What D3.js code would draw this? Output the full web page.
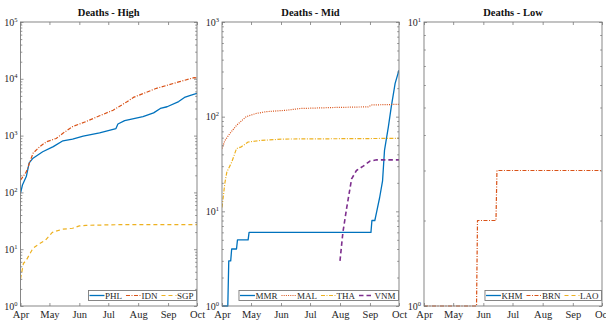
<!DOCTYPE html>
<html><head><meta charset="utf-8">
<script src="https://cdn.jsdelivr.net/npm/d3@7"></script>
<style>body{margin:0;background:#fff}svg{display:block}</style>
</head><body>
<svg id="chart" width="606" height="322"></svg>
<script>
// Month ticks along the x axis (2020)
const monthTicks = ["04-01","05-01","06-01","07-01","08-01","09-01","10-01"];

// Cumulative deaths, [date, deaths]
const phl = [["04-01",96],["04-03",135],["04-07",190],["04-10",330],["04-14",400],["04-24",520],
  ["05-05",640],["05-15",810],["05-25",870],["06-05",980],["06-22",1120],["07-09",1330],["07-11",1600],
  ["07-18",1830],["08-06",2150],["08-17",2510],["08-24",3010],["08-31",3220],["09-12",3970],
  ["09-18",4700],["09-25",5150],["10-01",5550]];
const idn = [["04-01",165],["04-07",230],["04-14",490],["04-21",640],["04-28",780],["05-08",890],
  ["05-15",1100],["05-25",1440],["06-08",1770],["06-22",2230],["07-06",2800],["07-20",3900],
  ["07-27",4700],["08-20",6800],["09-13",8900],["09-28",10500],["10-01",10300]];
const sgp = [["04-01",3],["04-04",5.6],["04-07",6.4],["04-14",10.4],["04-20",12.3],["04-27",14.5],
  ["05-04",19.8],["05-14",22.4],["05-25",23.4],["06-01",25.7],["06-08",26.3],["07-10",27],["10-01",27]];

const mmr = [["04-01",1],["04-07",1],["04-08",3],["04-10",3],["04-11",4],["04-16",4],["04-17",5],
  ["04-28",5],["04-29",6],["09-02",6],["09-03",8],["09-06",8],["09-08",10],["09-11",14],["09-14",21],
  ["09-16",44],["09-20",78],["09-23",127],["09-27",225],["10-01",310]];
const mal = [["04-01",46],["04-04",56],["04-09",66],["04-16",81],["04-26",100],["05-06",108],
  ["05-17",113],["06-07",117],["06-21",122],["07-26",125],["08-30",127],["09-03",133],["10-01",135]];
const tha = [["04-01",11],["04-04",20],["04-06",26],["04-11",33],["04-16",46],["04-21",48],
  ["04-28",54],["05-10",56],["06-03",58],["10-01",59]];
const vnm = [["08-01",3],["08-04",6],["08-08",11],["08-13",22],["08-18",27],["08-25",30],
  ["09-01",34],["09-08",35],["10-01",35]];

const khm = [["04-01",0],["10-01",0]];
const brn = [["04-01",1],["05-25",1],["05-26",2],["06-14",2],["06-15",3],["10-01",3]];
const lao = [["04-01",0],["10-01",0]];

const C = {blue:"#0072BD", orange:"#D95319", yellow:"#EDB120", purple:"#7E2F8E"};
const DASHDOT = "4,1.5,1,1.5", DASHED = "4,3", DOTTED = "1,1.2";

const panels = [
  {title:"Deaths - High", x0:20.5, x1:197, decades:5, series:[
    {name:"PHL", data:phl, color:C.blue, dash:null, w:1.3},
    {name:"IDN", data:idn, color:C.orange, dash:DASHDOT, w:1.2},
    {name:"SGP", data:sgp, color:C.yellow, dash:DASHED, w:1.2}]},
  {title:"Deaths - Mid", x0:222, x1:399, decades:3, series:[
    {name:"MMR", data:mmr, color:C.blue, dash:null, w:1.3},
    {name:"MAL", data:mal, color:C.orange, dash:DOTTED, w:1.2},
    {name:"THA", data:tha, color:C.yellow, dash:DASHDOT, w:1.2},
    {name:"VNM", data:vnm, color:C.purple, dash:"4.5,3", w:1.6}]},
  {title:"Deaths - Low", x0:424, x1:602, decades:1, series:[
    {name:"KHM", data:khm, color:C.blue, dash:null, w:1.3},
    {name:"BRN", data:brn, color:C.orange, dash:DASHDOT, w:1.2},
    {name:"LAO", data:lao, color:C.yellow, dash:DASHED, w:1.2}]}
];

const parse = d3.timeParse("%Y-%m-%d");
const toDate = s => parse("2020-" + s);
const plotTop = 22, plotBottom = 306;
const svg = d3.select("#chart");
const FONT = "'Liberation Serif', 'Times New Roman', serif";
const AXIS = "#7a7a7a", TEXT = "#262626";

panels.forEach((p, i) => {
  const g = svg.append("g");
  const x = d3.scaleTime().domain([toDate("04-01"), toDate("10-01")]).range([p.x0, p.x1]);
  const y = d3.scaleLog().domain([1, Math.pow(10, p.decades)]).range([plotBottom, plotTop]);
  const tickDates = monthTicks.map(toDate);
  const majors = d3.range(p.decades + 1).map(k => Math.pow(10, k));
  const minors = [];
  for (let k = 0; k < p.decades; k++) for (let m = 2; m <= 9; m++) minors.push(m * Math.pow(10, k));

  const clipId = "clip" + i;
  svg.append("clipPath").attr("id", clipId).append("rect")
    .attr("x", p.x0).attr("y", plotTop - 1).attr("width", p.x1 - p.x0).attr("height", plotBottom - plotTop + 2);

  // series lines
  const line = d3.line().defined(d => d[1] > 0).x(d => x(toDate(d[0]))).y(d => y(d[1]));
  p.series.forEach(s => {
    if (!s.data.some(d => d[1] > 0)) return;
    g.append("path").datum(s.data).attr("d", line).attr("clip-path", `url(#${clipId})`)
      .attr("fill", "none").attr("stroke", s.color).attr("stroke-width", s.w)
      .attr("stroke-dasharray", s.dash).attr("stroke-linejoin", "round");
  });

  // axes (ticks pointing inward)
  const styleAxis = sel => {
    sel.select(".domain").remove();
    sel.selectAll(".tick line").attr("stroke", AXIS).attr("stroke-width", 0.8);
    sel.selectAll("text").attr("font-family", FONT).attr("font-size", 10.5).attr("fill", TEXT);
  };
  g.append("g").attr("transform", `translate(0,${plotBottom})`)
    .call(d3.axisBottom(x).tickValues(tickDates).tickFormat(d3.timeFormat("%b"))
      .tickSizeInner(-3).tickSizeOuter(0).tickPadding(5)).call(styleAxis);
  g.append("g").attr("transform", `translate(0,${plotTop})`)
    .call(d3.axisTop(x).tickValues(tickDates).tickFormat("").tickSizeInner(-3).tickSizeOuter(0)).call(styleAxis);
  [[d3.axisLeft, p.x0], [d3.axisRight, p.x1]].forEach(([ax, pos]) => {
    g.append("g").attr("transform", `translate(${pos},0)`)
      .call(ax(y).tickValues(majors).tickFormat("").tickSizeInner(-3).tickSizeOuter(0)).call(styleAxis);
    g.append("g").attr("transform", `translate(${pos},0)`)
      .call(ax(y).tickValues(minors).tickFormat("").tickSizeInner(-1.8).tickSizeOuter(0)).call(styleAxis);
  });

  // y labels as 10^k
  majors.forEach((v, k) => {
    const t = g.append("text").attr("x", p.x0 - 3).attr("y", y(v) + 3.5)
      .attr("text-anchor", "end").attr("font-family", FONT).attr("font-size", 10).attr("fill", TEXT);
    t.append("tspan").text("10");
    t.append("tspan").attr("dy", -4).attr("font-size", 6.5).text(String(k));
  });

  // frame
  g.append("rect").attr("x", p.x0).attr("y", plotTop).attr("width", p.x1 - p.x0).attr("height", plotBottom - plotTop)
    .attr("fill", "none").attr("stroke", AXIS).attr("stroke-width", 0.9);

  // title
  g.append("text").attr("x", (p.x0 + p.x1) / 2).attr("y", 16).attr("text-anchor", "middle")
    .attr("font-family", FONT).attr("font-weight", "bold").attr("font-size", 10.5).attr("fill", "#111")
    .text(p.title);

  // legend, anchored in the lower-right corner
  const lg = g.append("g");
  const box = lg.append("rect");
  let cx = 0;
  const lineLen = 15;
  p.series.forEach(s => {
    lg.append("line").attr("x1", cx + 1).attr("x2", cx + 1 + lineLen).attr("y1", 5).attr("y2", 5)
      .attr("stroke", s.color).attr("stroke-width", s.w).attr("stroke-dasharray", s.dash);
    const t = lg.append("text").attr("x", cx + 1 + lineLen + 0.5).attr("y", 8.3)
      .attr("font-family", FONT).attr("font-size", 9).attr("fill", TEXT).text(s.name);
    cx += 1 + lineLen + 0.5 + t.node().getComputedTextLength() + 3;
  });
  const bw = cx;
  box.attr("x", 0).attr("y", 0).attr("width", bw).attr("height", 10)
    .attr("fill", "#fff").attr("stroke", AXIS).attr("stroke-width", 0.9);
  lg.attr("transform", `translate(${p.x1 - 0.5 - bw},${plotBottom - 15.5})`);
});
</script>
</body></html>
